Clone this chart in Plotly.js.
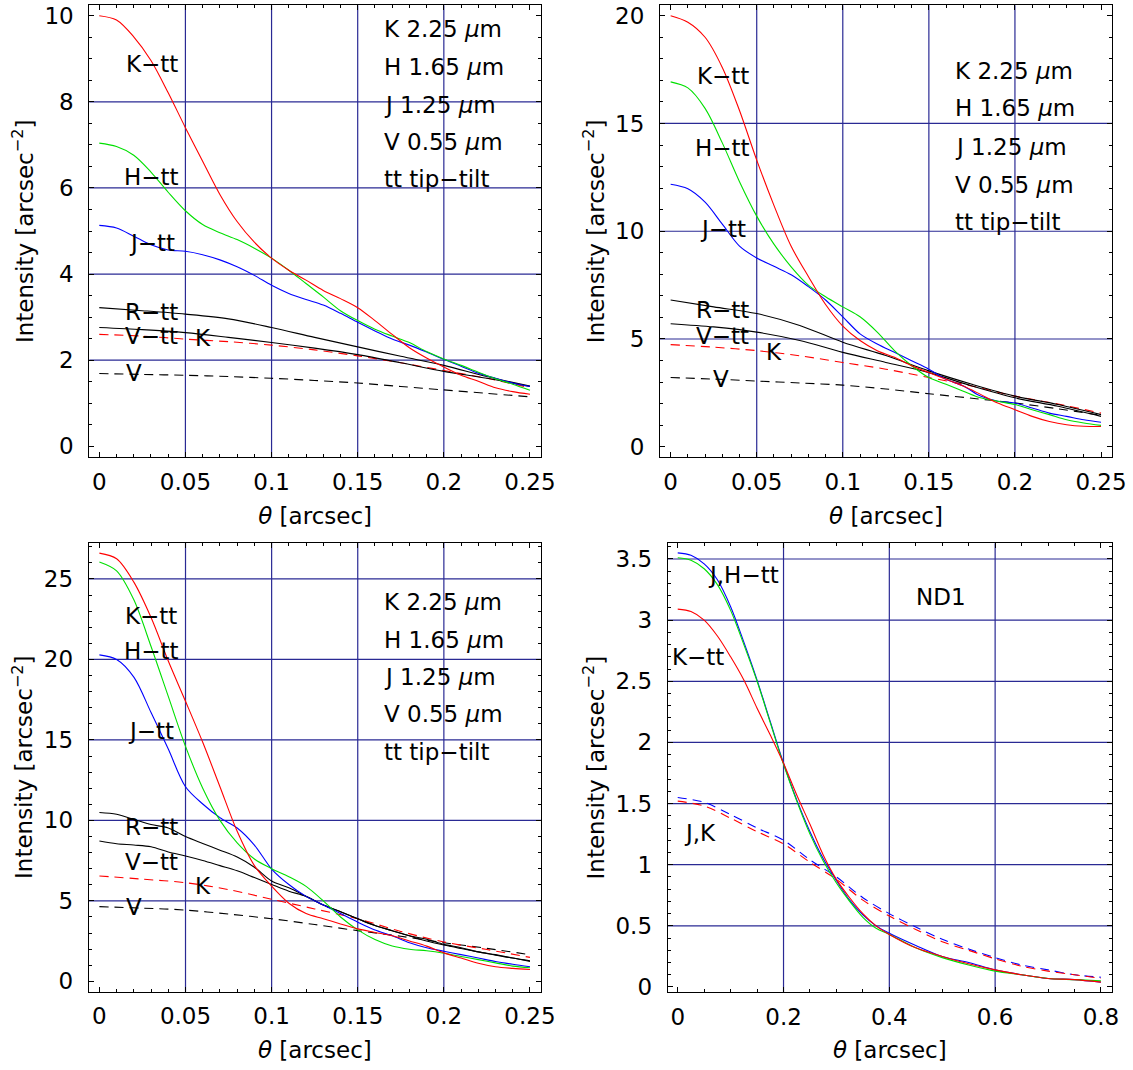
<!DOCTYPE html>
<html>
<head>
<meta charset="utf-8">
<script src="https://cdn.plot.ly/plotly-3.0.1.min.js"></script>
<style>body{margin:0;padding:0;background:#fff}#chart{width:1133px;height:1070px}</style>
</head>
<body>
<div id="chart"></div>
<script>
// ---------- Panel A (top-left) ----------
const thetaA = [0,0.01,0.02,0.03,0.04,0.05,0.06,0.07,0.08,0.09,0.1,0.11,0.12,0.13,0.14,0.15,0.16,0.17,0.18,0.19,0.2,0.21,0.22,0.23,0.24,0.25];
const A_Ktt = [10.0,9.90,9.51,8.96,8.21,7.40,6.62,5.85,5.22,4.74,4.37,4.09,3.86,3.62,3.43,3.22,2.92,2.60,2.29,2.05,1.84,1.65,1.51,1.36,1.27,1.21];
const A_Htt = [7.04,6.96,6.76,6.37,5.90,5.47,5.15,4.96,4.80,4.60,4.37,4.09,3.78,3.47,3.15,2.92,2.72,2.56,2.41,2.20,2.03,1.88,1.72,1.57,1.44,1.30];
const A_Jtt = [5.13,5.07,4.88,4.68,4.56,4.53,4.45,4.33,4.17,3.97,3.74,3.55,3.41,3.28,3.09,2.88,2.68,2.49,2.35,2.19,2.02,1.86,1.70,1.58,1.47,1.39];
const thetaA2 = [0,0.025,0.05,0.075,0.1,0.125,0.15,0.175,0.2,0.225,0.25];
const A_Rtt = [3.22,3.15,3.07,2.96,2.76,2.53,2.31,2.09,1.88,1.62,1.40];
const A_Vtt = [2.76,2.71,2.64,2.53,2.41,2.28,2.13,1.94,1.74,1.58,1.39];
const A_K   = [2.60,2.56,2.49,2.43,2.35,2.24,2.10,1.94,1.76,1.58,1.36];
const A_V   = [1.69,1.67,1.65,1.62,1.58,1.53,1.47,1.39,1.31,1.23,1.15];

// ---------- Panel B (top-right) ----------
const thetaB = thetaA.slice();
const B_Ktt = [20.0,19.7,19.0,17.6,15.6,13.3,11.2,9.3,7.9,6.6,5.6,4.93,4.46,4.15,3.76,3.44,3.13,2.82,2.43,2.03,1.72,1.41,1.17,1.02,0.95,0.94];
const B_Htt = [16.93,16.65,15.7,14.1,12.3,10.7,9.4,8.35,7.5,6.96,6.49,6.03,5.32,4.46,3.76,3.21,2.90,2.58,2.27,2.11,1.96,1.72,1.49,1.25,1.10,0.99];
const B_Jtt = [12.18,11.97,11.35,10.33,9.31,8.76,8.37,7.98,7.43,6.81,6.03,5.24,4.77,4.38,3.99,3.60,3.13,2.82,2.35,2.11,2.03,1.80,1.56,1.41,1.25,1.14];
const thetaB2 = thetaA2.slice();
const B_Rtt = [6.81,6.49,6.18,5.63,4.85,4.23,3.52,2.90,2.35,1.96,1.49];
const B_Vtt = [5.71,5.56,5.32,4.93,4.38,3.91,3.44,2.82,2.27,1.88,1.41];
const B_K   = [4.74,4.62,4.46,4.22,3.91,3.60,3.21,2.82,2.35,1.98,1.56];
const B_V   = [3.21,3.14,3.05,2.96,2.86,2.68,2.46,2.25,2.03,1.76,1.46];

// ---------- Panel C (bottom-left) ----------
const thetaC = thetaA.slice();
const C_Ktt = [26.6,26.25,24.8,22.6,19.9,17.4,14.85,12.09,9.32,7.19,5.91,4.85,4.21,3.89,3.57,3.26,3.04,2.83,2.51,2.19,1.77,1.45,1.13,0.91,0.81,0.74];
const C_Htt = [26.05,25.5,23.7,20.8,17.7,14.6,12.0,10.0,8.6,7.6,7.0,6.5,5.9,5.0,4.0,3.2,2.6,2.2,2.0,1.9,1.75,1.55,1.35,1.15,0.95,0.85];
const C_Jtt = [20.28,20.0,18.9,16.7,14.43,12.09,11.02,10.17,9.53,8.47,6.98,6.02,5.28,4.74,4.21,3.68,3.19,2.83,2.40,2.09,1.87,1.66,1.45,1.23,1.06,0.91];
const C_Rtt = [10.49,10.38,10.06,9.74,9.53,9.0,8.57,8.15,7.72,7.09,6.23,5.81,5.28,4.74,4.32,3.89,3.47,3.15,2.83,2.62,2.30,2.09,1.83,1.66,1.45,1.28];
const C_Vtt = [8.72,8.55,8.47,8.36,8.04,7.79,7.51,7.19,6.87,6.45,6.02,5.60,5.28,4.74,4.32,3.89,3.47,3.15,2.83,2.51,2.26,2.04,1.83,1.62,1.45,1.23];
const thetaC2 = thetaA2.slice();
const C_K   = [6.55,6.35,6.13,5.70,5.10,4.50,3.89,3.10,2.45,1.98,1.49];
const C_V   = [4.64,4.55,4.43,4.18,3.89,3.53,3.15,2.80,2.40,2.05,1.66];

// ---------- Panel D (bottom-right, ND1) ----------
const thetaD = [0,0.025,0.05,0.075,0.1,0.125,0.15,0.175,0.2,0.225,0.25,0.275,0.3,0.325,0.35,0.375,0.4,0.45,0.5,0.55,0.6,0.65,0.7,0.75,0.8];
const D_Jtt = [3.55,3.53,3.46,3.33,3.11,2.82,2.51,2.17,1.83,1.53,1.27,1.05,0.87,0.71,0.59,0.50,0.44,0.34,0.25,0.20,0.14,0.10,0.07,0.06,0.04];
const D_Htt = [3.51,3.49,3.42,3.29,3.08,2.80,2.50,2.16,1.82,1.52,1.25,1.03,0.85,0.70,0.57,0.48,0.43,0.32,0.24,0.18,0.13,0.10,0.07,0.06,0.05];
const D_Ktt = [3.09,3.07,3.00,2.87,2.70,2.51,2.28,2.06,1.83,1.57,1.33,1.08,0.88,0.73,0.60,0.50,0.43,0.32,0.25,0.19,0.14,0.10,0.07,0.06,0.04];
const thetaD2 = [0,0.05,0.1,0.15,0.2,0.25,0.3,0.35,0.4,0.45,0.5,0.55,0.6,0.65,0.7,0.75,0.8];
const D_J = [1.55,1.51,1.41,1.30,1.20,1.04,0.90,0.73,0.60,0.49,0.39,0.31,0.24,0.18,0.14,0.10,0.08];
const D_K = [1.52,1.48,1.38,1.27,1.17,1.02,0.88,0.71,0.58,0.47,0.37,0.30,0.23,0.17,0.13,0.10,0.07];

// ---------- Grid lines ----------
const gridXA = [0.05,0.1,0.15,0.2], gridYA = [2,4,6,8];
const gridXB = [0.05,0.1,0.15,0.2], gridYB = [5,10,15];
const gridXC = [0.05,0.1,0.15,0.2], gridYC = [5,10,15,20,25];
const gridXD = [0.2,0.4,0.6], gridYD = [0.5,1,1.5,2,2.5,3,3.5];

// ---------- Labels ----------
const bandText = ['K 2.25 <i>μ</i>m','H 1.65 <i>μ</i>m','J 1.25 <i>μ</i>m','V 0.55 <i>μ</i>m','tt tip−tilt'];
const curveLabels = ['K−tt','H−tt','J−tt','R−tt','V−tt','K','V'];
const labelsA = {x:[0.0304,0.0304,0.0304,0.0304,0.0304,0.060,0.0202], y:[8.88,6.25,4.72,3.11,2.56,2.52,1.70]};
const labelsB = {x:[0.0303,0.0303,0.0303,0.0303,0.0303,0.060,0.029], y:[17.2,13.85,10.09,6.34,5.16,4.38,3.13]};
const labelsC = {x:[0.030,0.030,0.030,0.030,0.030,0.060,0.020], y:[22.7,20.55,15.53,9.57,7.40,5.91,4.64]};
const bandA = {x:0.164, y:[9.70,8.80,7.93,7.07,6.21]};
const bandB = {x:0.164, y:[17.45,15.70,13.93,12.16,10.44]};
const bandC = {x:0.164, y:[23.57,21.23,18.89,16.62,14.26]};
const labelsD = {text:['J,H−tt','K−tt','J,K','ND1'], x:[0.124,0.039,0.042,0.498], y:[3.37,2.70,1.26,3.19]};

const RED='#ff0000', GREEN='#00e000', BLUE='#0000ff', BLACK='#000000';
const FONT = 'DejaVu Sans, Verdana, sans-serif';
const FS = 23;

function line(x, y, color, dash, ax) {
  return {x:x, y:y, type:'scatter', mode:'lines', xaxis:'x'+ax, yaxis:'y'+ax,
    line:{color:color, width:1.1, dash: dash ? '9px,6px' : 'solid', shape:'spline', smoothing:0.9},
    showlegend:false, hoverinfo:'skip'};
}

const traces = [
  line(thetaA2,A_V,BLACK,true,''), line(thetaA2,A_K,RED,true,''),
  line(thetaA2,A_Vtt,BLACK,false,''), line(thetaA2,A_Rtt,BLACK,false,''),
  line(thetaA,A_Jtt,BLUE,false,''), line(thetaA,A_Htt,GREEN,false,''), line(thetaA,A_Ktt,RED,false,''),

  line(thetaB2,B_V,BLACK,true,'2'), line(thetaB2,B_K,RED,true,'2'),
  line(thetaB2,B_Vtt,BLACK,false,'2'), line(thetaB2,B_Rtt,BLACK,false,'2'),
  line(thetaB,B_Jtt,BLUE,false,'2'), line(thetaB,B_Htt,GREEN,false,'2'), line(thetaB,B_Ktt,RED,false,'2'),

  line(thetaC2,C_V,BLACK,true,'3'), line(thetaC2,C_K,RED,true,'3'),
  line(thetaC,C_Vtt,BLACK,false,'3'), line(thetaC,C_Rtt,BLACK,false,'3'),
  line(thetaC,C_Jtt,BLUE,false,'3'), line(thetaC,C_Htt,GREEN,false,'3'), line(thetaC,C_Ktt,RED,false,'3'),

  line(thetaD2,D_J,BLUE,true,'4'), line(thetaD2,D_K,RED,true,'4'),
  line(thetaD,D_Jtt,BLUE,false,'4'), line(thetaD,D_Htt,GREEN,false,'4'), line(thetaD,D_Ktt,RED,false,'4')
];

function xax(domain, range, dtick, minor, anchor) {
  return {domain:domain, range:range, anchor:anchor, tick0:0, dtick:dtick,
    ticks:'inside', ticklen:5, tickwidth:1, tickcolor:'#000',
    minor:{ticks:'inside', ticklen:3, dtick:minor, tick0:0, tickcolor:'#000', showgrid:false},
    showline:true, linecolor:'#000', linewidth:1, mirror:'ticks',
    showgrid:false, zeroline:false, ticklabelstandoff:4,
    tickfont:{family:FONT, size:FS, color:'#000'},
    title:{text:'<i>θ</i> [arcsec]', font:{family:FONT, size:FS, color:'#000'}, standoff:13}};
}
function yax(domain, range, dtick, minor, anchor) {
  return {domain:domain, range:range, anchor:anchor, tick0:0, dtick:dtick,
    ticks:'inside', ticklen:5, tickwidth:1, tickcolor:'#000',
    minor:{ticks:'inside', ticklen:3, dtick:minor, tick0:0, tickcolor:'#000', showgrid:false},
    showline:true, linecolor:'#000', linewidth:1, mirror:'ticks',
    showgrid:false, zeroline:false, ticklabelstandoff:10,
    tickfont:{family:FONT, size:FS, color:'#000'},
    title:{text:'Intensity [arcsec<sup>−2</sup>]', font:{family:FONT, size:FS, color:'#000'}, standoff:4}};
}

const shapes = [];
function grid(xs, ys, ax) {
  const GC = '#2a2a94';
  xs.forEach(v => shapes.push({type:'line', layer:'below', xref:'x'+ax, yref:'y'+ax+' domain',
    x0:v, x1:v, y0:0, y1:1, line:{color:GC, width:1.2}}));
  ys.forEach(v => shapes.push({type:'line', layer:'below', xref:'x'+ax+' domain', yref:'y'+ax,
    x0:0, x1:1, y0:v, y1:v, line:{color:GC, width:1.2}}));
}
grid(gridXA, gridYA, '');
grid(gridXB, gridYB, '2');
grid(gridXC, gridYC, '3');
grid(gridXD, gridYD, '4');

const annotations = [];
function ann(text, x, y, ax, xanchor) {
  annotations.push({text:text, x:x, y:y, xref:'x'+ax, yref:'y'+ax, showarrow:false,
    xanchor:xanchor, yanchor:'middle', font:{family:FONT, size:FS, color:'#000'}});
}
function curveAnn(lbl, ax) { curveLabels.forEach((t,i) => ann(t, lbl.x[i], lbl.y[i], ax, 'center')); }
function bandAnn(b, ax) { bandText.forEach((t,i) => ann(t, b.x, b.y[i], ax, 'left')); }
curveAnn(labelsA, ''); bandAnn(bandA, '');
curveAnn(labelsB, '2'); bandAnn(bandB, '2');
curveAnn(labelsC, '3'); bandAnn(bandC, '3');
labelsD.text.forEach((t,i) => ann(t, labelsD.x[i], labelsD.y[i], '4', 'center'));

const layout = {
  width:1133, height:1070, margin:{l:0, r:0, t:0, b:0},
  paper_bgcolor:'#fff', plot_bgcolor:'#fff', showlegend:false,
  font:{family:FONT, size:FS, color:'#000'},
  xaxis:  xax([0.0788,0.4775], [-0.0058,0.2564], 0.05, 0.01, 'y'),
  yaxis:  yax([0.5726,0.9950], [-0.255,10.24], 2, 0.5, 'x'),
  xaxis2: xax([0.5825,0.9815], [-0.0062,0.2564], 0.05, 0.01, 'y2'),
  yaxis2: yax([0.5726,0.9950], [-0.49,20.48], 5, 1, 'x2'),
  xaxis3: xax([0.0783,0.4775], [-0.0062,0.2564], 0.05, 0.01, 'y3'),
  yaxis3: yax([0.0732,0.4928], [-0.64,27.25], 5, 1, 'x3'),
  xaxis4: xax([0.5893,0.9815], [-0.019,0.821], 0.2, 0.05, 'y4'),
  yaxis4: yax([0.0729,0.4922], [-0.041,3.628], 0.5, 0.1, 'x4'),
  shapes:shapes, annotations:annotations
};

Plotly.newPlot('chart', traces, layout, {staticPlot:true, displayModeBar:false});
</script>
</body>
</html>
